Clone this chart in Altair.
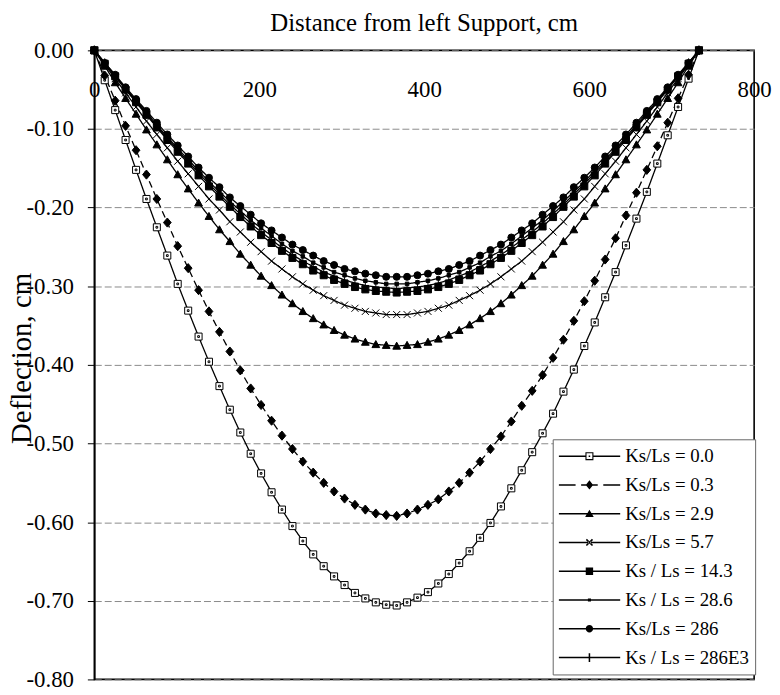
import altair as alt
import pandas as pd

FONT = "Liberation Serif"

# distance from left support (cm)
DIST_CM = [0.0, 12.6, 25.3, 37.9, 50.6, 63.2, 75.8, 88.5, 101.1, 113.8,
           126.4, 139.0, 151.7, 164.3, 177.0, 189.6, 202.2, 214.9, 227.5, 240.2,
           252.8, 265.4, 278.1, 290.7, 303.4, 316.0, 328.6, 341.3, 353.9, 366.6,
           379.2, 391.8, 404.5, 417.1, 429.8, 442.4, 455.0, 467.7, 480.3, 493.0,
           505.6, 518.2, 530.9, 543.5, 556.2, 568.8, 581.4, 594.1, 606.7, 619.4,
           632.0, 644.6, 657.3, 669.9, 682.6, 695.2, 707.8, 720.5, 733.1]

SERIES = ["Ks/Ls = 0.0", "Ks/Ls = 0.3", "Ks/Ls = 2.9", "Ks/Ls = 5.7",
          "Ks / Ls = 14.3", "Ks / Ls = 28.6", "Ks/Ls = 286", "Ks / Ls = 286E3"]

DEFL_00 = [0, -0.038, -0.076, -0.114, -0.152, -0.189, -0.225, -0.261, -0.297, -0.331,
           -0.364, -0.396, -0.427, -0.457, -0.486, -0.513, -0.538, -0.562, -0.584, -0.605,
           -0.624, -0.641, -0.656, -0.669, -0.680, -0.690, -0.697, -0.702, -0.705, -0.706,
           -0.702, -0.696, -0.689, -0.678, -0.666, -0.652, -0.637, -0.620, -0.601, -0.580,
           -0.557, -0.534, -0.511, -0.487, -0.462, -0.434, -0.406, -0.376, -0.346, -0.314,
           -0.282, -0.248, -0.214, -0.180, -0.144, -0.108, -0.072, -0.036, 0]
DEFL_03 = [0, -0.032, -0.064, -0.096, -0.127, -0.158, -0.189, -0.219, -0.249, -0.277,
           -0.305, -0.332, -0.358, -0.383, -0.407, -0.430, -0.451, -0.471, -0.490, -0.507,
           -0.523, -0.537, -0.550, -0.561, -0.570, -0.578, -0.584, -0.589, -0.591, -0.592,
           -0.589, -0.584, -0.578, -0.571, -0.561, -0.550, -0.537, -0.523, -0.507, -0.491,
           -0.472, -0.452, -0.433, -0.413, -0.391, -0.368, -0.344, -0.319, -0.293, -0.266,
           -0.239, -0.210, -0.181, -0.152, -0.122, -0.092, -0.061, -0.031, 0]
DEFL_29 = [0, -0.020, -0.041, -0.061, -0.081, -0.101, -0.120, -0.139, -0.158, -0.176,
           -0.194, -0.211, -0.228, -0.243, -0.259, -0.273, -0.287, -0.299, -0.311, -0.322,
           -0.332, -0.341, -0.349, -0.356, -0.362, -0.367, -0.371, -0.374, -0.375, -0.376,
           -0.375, -0.374, -0.371, -0.367, -0.362, -0.356, -0.349, -0.341, -0.332, -0.322,
           -0.311, -0.299, -0.287, -0.273, -0.259, -0.243, -0.228, -0.211, -0.194, -0.176,
           -0.158, -0.139, -0.120, -0.101, -0.081, -0.061, -0.041, -0.020, 0]
DEFL_57 = [0, -0.018, -0.036, -0.054, -0.072, -0.090, -0.107, -0.124, -0.141, -0.157,
           -0.173, -0.189, -0.203, -0.218, -0.231, -0.244, -0.256, -0.268, -0.278, -0.288,
           -0.297, -0.305, -0.312, -0.318, -0.324, -0.328, -0.332, -0.334, -0.336, -0.336,
           -0.336, -0.334, -0.332, -0.328, -0.324, -0.318, -0.312, -0.305, -0.297, -0.288,
           -0.278, -0.268, -0.256, -0.244, -0.231, -0.218, -0.203, -0.189, -0.173, -0.157,
           -0.141, -0.124, -0.107, -0.090, -0.072, -0.054, -0.036, -0.018, 0]
DEFL_143 = [0, -0.017, -0.033, -0.050, -0.066, -0.082, -0.098, -0.114, -0.129, -0.144,
            -0.159, -0.173, -0.186, -0.199, -0.212, -0.224, -0.235, -0.245, -0.255, -0.264,
            -0.272, -0.280, -0.286, -0.292, -0.297, -0.301, -0.304, -0.306, -0.307, -0.308,
            -0.307, -0.306, -0.304, -0.301, -0.297, -0.292, -0.286, -0.280, -0.272, -0.264,
            -0.255, -0.245, -0.235, -0.224, -0.212, -0.199, -0.186, -0.173, -0.159, -0.144,
            -0.129, -0.114, -0.098, -0.082, -0.066, -0.050, -0.033, -0.017, 0]
DEFL_286 = [0, -0.016, -0.032, -0.048, -0.064, -0.079, -0.095, -0.110, -0.125, -0.139,
            -0.153, -0.167, -0.180, -0.192, -0.204, -0.216, -0.226, -0.236, -0.246, -0.255,
            -0.262, -0.270, -0.276, -0.282, -0.286, -0.290, -0.293, -0.295, -0.297, -0.297,
            -0.297, -0.295, -0.293, -0.290, -0.286, -0.282, -0.276, -0.270, -0.262, -0.255,
            -0.246, -0.236, -0.226, -0.216, -0.204, -0.192, -0.180, -0.167, -0.153, -0.139,
            -0.125, -0.110, -0.095, -0.079, -0.064, -0.048, -0.032, -0.016, 0]
DEFL_286B = [0, -0.016, -0.031, -0.047, -0.062, -0.077, -0.092, -0.107, -0.121, -0.135,
             -0.149, -0.162, -0.174, -0.187, -0.198, -0.209, -0.220, -0.229, -0.238, -0.247,
             -0.254, -0.261, -0.268, -0.273, -0.278, -0.281, -0.284, -0.286, -0.288, -0.288,
             -0.288, -0.286, -0.284, -0.281, -0.278, -0.273, -0.268, -0.261, -0.254, -0.247,
             -0.238, -0.229, -0.220, -0.209, -0.198, -0.187, -0.174, -0.162, -0.149, -0.135,
             -0.121, -0.107, -0.092, -0.077, -0.062, -0.047, -0.031, -0.016, 0]
DEFL_286E3 = [0, -0.016, -0.033, -0.049, -0.065, -0.081, -0.097, -0.112, -0.127, -0.142,
              -0.156, -0.170, -0.183, -0.196, -0.208, -0.220, -0.231, -0.241, -0.251, -0.260,
              -0.268, -0.275, -0.282, -0.287, -0.292, -0.296, -0.299, -0.301, -0.302, -0.303,
              -0.302, -0.301, -0.299, -0.296, -0.292, -0.287, -0.282, -0.275, -0.268, -0.260,
              -0.251, -0.241, -0.231, -0.220, -0.208, -0.196, -0.183, -0.170, -0.156, -0.142,
              -0.127, -0.112, -0.097, -0.081, -0.065, -0.049, -0.033, -0.016, 0]

DEFL = [DEFL_00, DEFL_03, DEFL_29, DEFL_57, DEFL_143, DEFL_286, DEFL_286B, DEFL_286E3]

X_TICKS = [0, 200, 400, 600, 800]
Y_TICKS = [0.0, -0.1, -0.2, -0.3, -0.4, -0.5, -0.6, -0.7, -0.8]

# ---- styles ----
MARKERS = ["M-1,-1H1V1H-1ZM-0.25,-0.25H0.25V0.25H-0.25Z",
           "M0,-1.3L1.1,0L0,1.3L-1.1,0Z",
           "M0,-1.1L1.1,0.9H-1.1Z",
           "M-1,-1L1,1M-1,1L1,-1",
           "M-1,-1H1V1H-1Z",
           "M-0.5,-0.5H0.5V0.5H-0.5Z",
           "circle",
           "M0,-1.3V1.3M-1,0H1"]
FILLS = ["white", "black", "black", "black", "black", "black", "black", "black"]
DASHES = [[1, 0], [7, 4], [1, 0], [1, 0], [1, 0], [1, 0], [1, 0], [1, 0]]

# legend symbols drawn with fill only (line + marker), unit = half symbol width
LINE = "M-1,-0.025H1V0.025H-1Z"
LEGEND_PATHS = [
    "M-1,-0.025H-0.13V0.025H-1ZM0.13,-0.025H1V0.025H0.13Z"
    "M-0.13,-0.13H0.13V0.13H-0.13ZM-0.095,-0.095V0.095H0.095V-0.095Z"
    "M-0.025,-0.025H0.025V0.025H-0.025Z",
    "M-1,-0.025H-0.45V0.025H-1ZM0.45,-0.025H1V0.025H0.45Z"
    "M-0.27,-0.025H0.27V0.025H-0.27ZM0,-0.15L0.12,0L0,0.15L-0.12,0Z",
    LINE + "M0,-0.13L0.14,0.11H-0.14Z",
    LINE + "M-0.118,-0.082L0.082,0.118L0.118,0.082L-0.082,-0.118Z"
           "M-0.118,0.082L-0.082,0.118L0.118,-0.082L0.082,-0.118Z",
    LINE + "M-0.12,-0.12H0.12V0.12H-0.12Z",
    LINE + "M-0.05,-0.05H0.05V0.05H-0.05Z",
    LINE + "M0.12,0A0.12,0.12,0,1,1,-0.12,0A0.12,0.12,0,1,1,0.12,0Z",
    LINE + "M-0.025,-0.14H0.025V0.14H-0.025Z",
]

rows = []
for name, vals in zip(SERIES, DEFL):
    for d, v in zip(DIST_CM, vals):
        rows.append({"dist": d, "defl": v, "series": name})
df = pd.DataFrame(rows)

x_enc = alt.X("dist:Q",
              scale=alt.Scale(domain=[0, 800], nice=False),
              axis=alt.Axis(orient="bottom", offset=-605, values=X_TICKS,
                            domain=False, ticks=False, grid=False,
                            labelFont=FONT, labelFontSize=23, labelColor="black",
                            labelPadding=0, labelFlush=False, labelOverlap=False,
                            labelBaseline="top", title=None))
y_enc = alt.Y("defl:Q",
              scale=alt.Scale(domain=[-0.8, 0], nice=False, zero=False),
              axis=alt.Axis(values=Y_TICKS,
                            labelExpr="replace(format(datum.value, '.2f'), '\u2212', '-')",
                            labelFont=FONT, labelFontSize=23, labelColor="black",
                            labelPadding=14, tickSize=7, tickColor="black",
                            tickWidth=1, domainColor="black", domainWidth=1.6,
                            grid=True, gridColor="#8a8a8a", gridDash=[7, 3],
                            gridWidth=1, title="Deflection, cm",
                            titleFont=FONT, titleFontSize=29,
                            titleFontWeight="normal", titleColor="black",
                            titleX=-73, titleY=310, titleAngle=270,
                            titleAlign="center", titleBaseline="middle"))

lines = alt.Chart(df).mark_line(color="black", strokeWidth=1.3).encode(
    x=x_enc, y=y_enc,
    detail="series:N",
    strokeDash=alt.StrokeDash("series:N",
                              scale=alt.Scale(domain=SERIES, range=DASHES),
                              legend=None),
)

point_layers = []
for i, name in enumerate(SERIES):
    point_layers.append(
        alt.Chart(df).transform_filter(alt.datum.series == name).mark_point(
            shape=MARKERS[i], fill=FILLS[i], filled=True, stroke="black",
            strokeWidth=1, size=50, opacity=1).encode(x=x_enc, y=y_enc)
    )

LEG = dict(title=None, orient="none", legendX=462, legendY=392,
           symbolSize=3844, clipHeight=22, rowPadding=7,
           padding=6, labelFont=FONT, labelFontSize=19,
           labelColor="black", labelOffset=5,
           strokeColor="#666", fillColor="white",
           symbolFillColor="black", symbolStrokeWidth=0)

# legend carrier: draws nothing in the plot, its symbols come from the shape scale
legend_layer = alt.Chart(df).transform_filter("false").mark_point(
    filled=True, fill="black", strokeWidth=0, opacity=1).encode(
    x=x_enc, y=y_enc,
    shape=alt.Shape("series:N",
                    scale=alt.Scale(domain=SERIES, range=LEGEND_PATHS),
                    legend=alt.Legend(**LEG)),
)

chart = alt.layer(lines, *point_layers, legend_layer).resolve_scale(
    shape="independent"
).properties(
    width=665, height=634,
    autosize=alt.AutoSizeParams(type="none"),
    padding={"left": 87, "top": 40, "right": 18, "bottom": 10},
    background="white",
    title=alt.TitleParams("Distance from left Support, cm", font=FONT,
                          fontSize=25, fontWeight="normal", color="black",
                          anchor="middle", frame="group", offset=-16,
                          baseline="alphabetic"),
).configure_view(stroke="black", strokeWidth=1.6)

chart.save("out.html", embed_options={"renderer": "svg", "actions": False})
